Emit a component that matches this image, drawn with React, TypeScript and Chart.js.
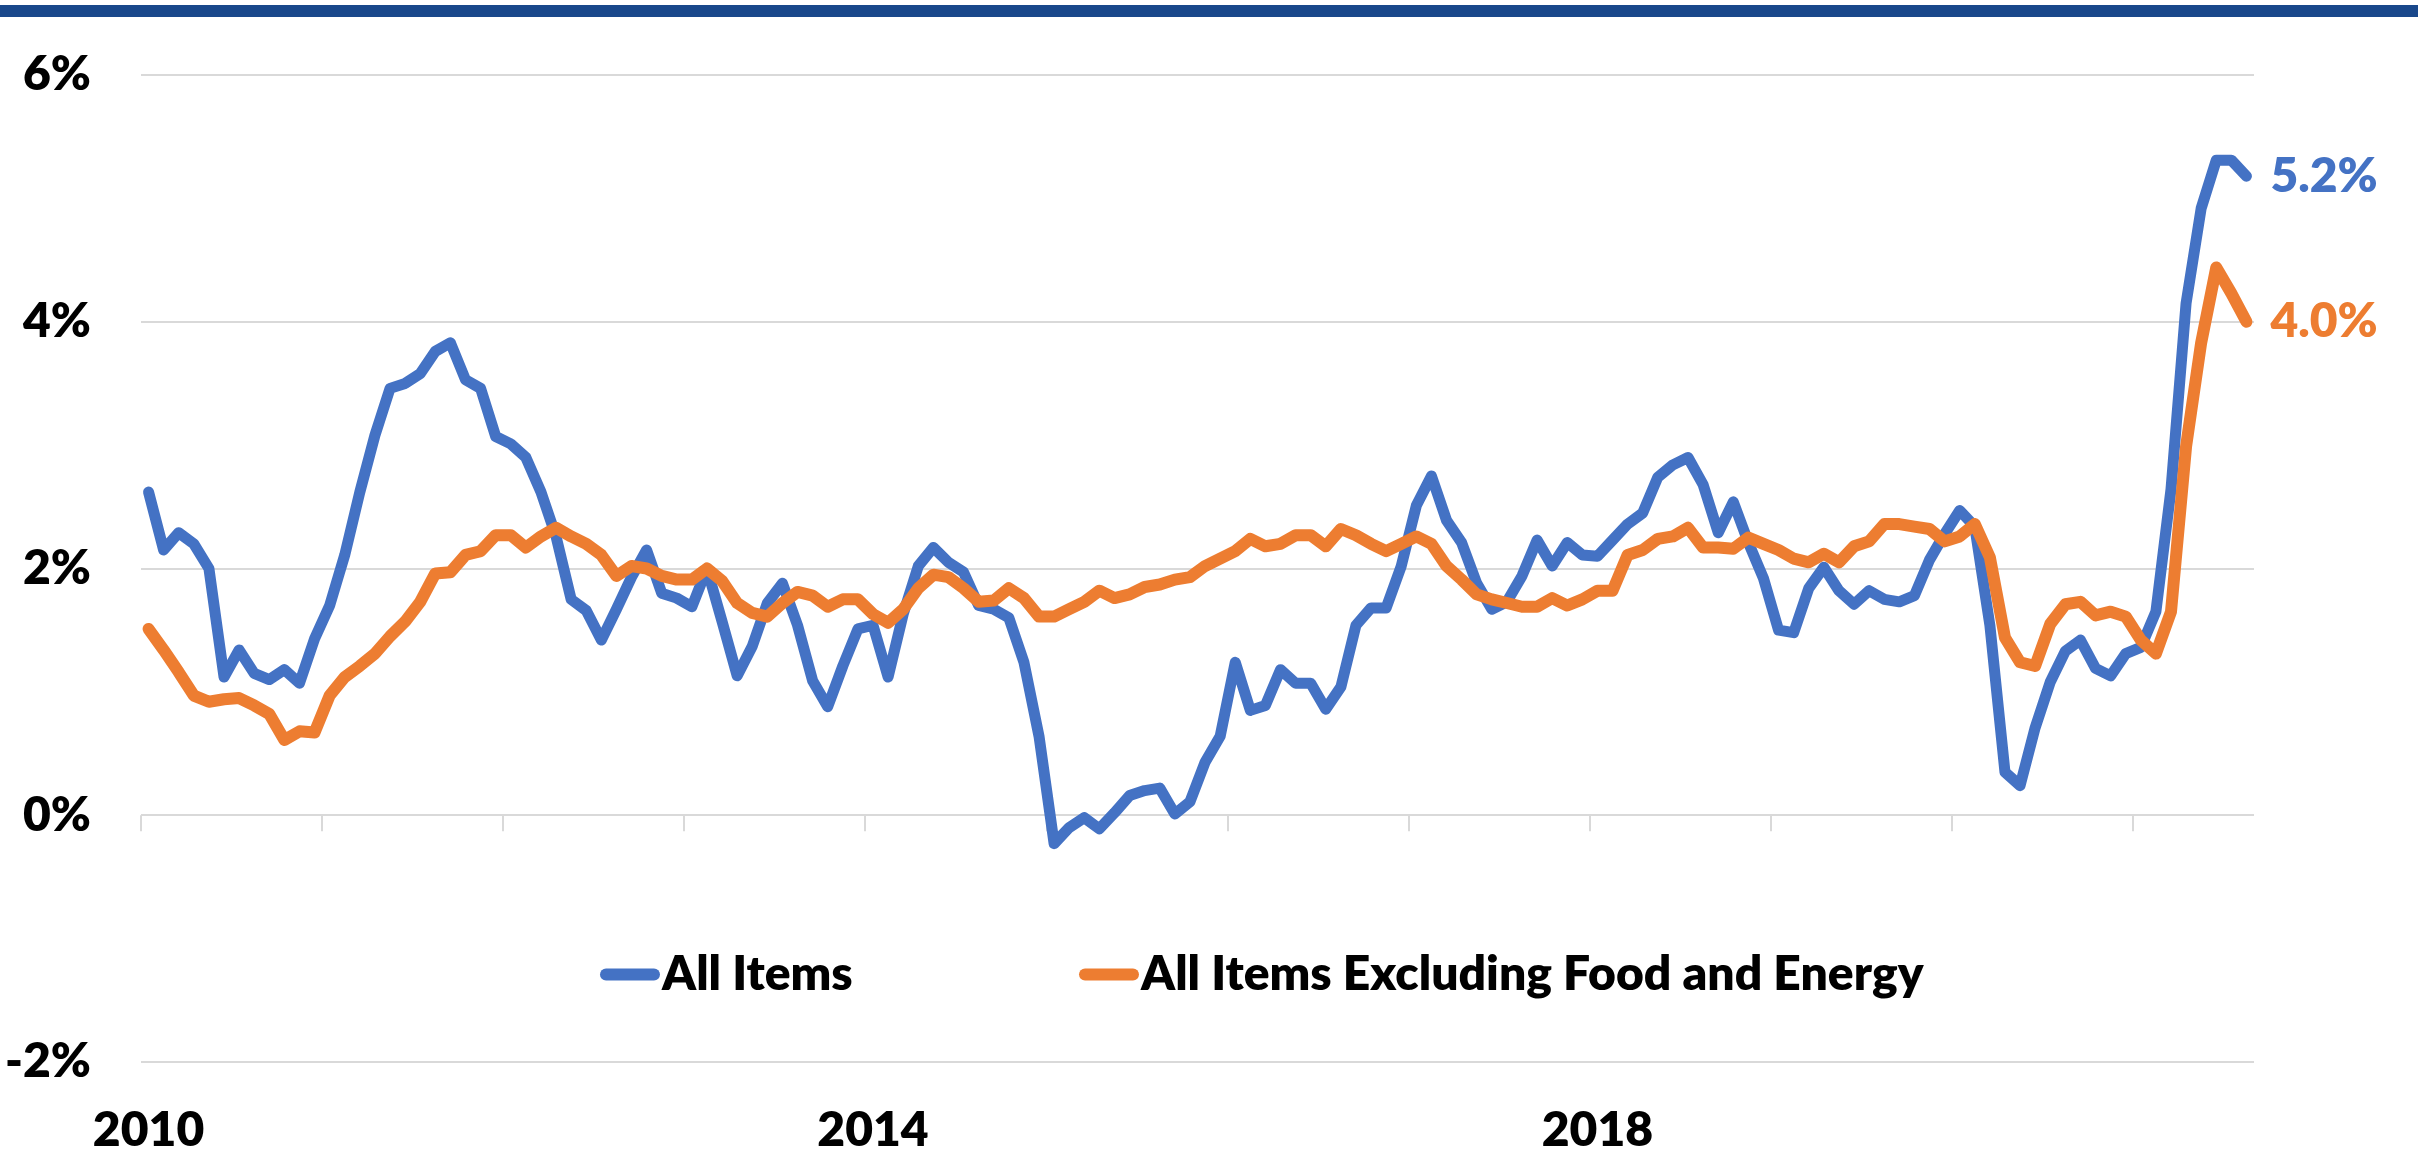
import React, { useEffect, useRef } from "react";
import { Chart, registerables } from "chart.js";

Chart.register(...registerables);

// ---- data ----
const startYear = 2010;
const monthCount = 140; // Jan 2010 .. Aug 2021
const months: string[] = Array.from({ length: monthCount }, (_, i) =>
  `${startYear + Math.floor(i / 12)}-${String((i % 12) + 1).padStart(2, "0")}`
);
const yearTickLabels = ["2010", "2014", "2018"];
const yTicks = [-2, 0, 2, 4, 6];

const seriesNames = ["All Items", "All Items Excluding Food and Energy"];
const seriesColors = ["#4472C4", "#ED7D31"];

const allItems = [
  2.62, 2.15, 2.29, 2.20, 2.00, 1.12, 1.34, 1.15, 1.10, 1.18, 1.07, 1.43,
  1.70, 2.11, 2.62, 3.08, 3.46, 3.50, 3.58, 3.76, 3.83, 3.53, 3.46, 3.07,
  3.01, 2.90, 2.62, 2.26, 1.75, 1.66, 1.42, 1.67, 1.93, 2.15, 1.80, 1.76,
  1.69, 2.00, 1.57, 1.13, 1.37, 1.72, 1.88, 1.54, 1.09, 0.88, 1.21, 1.51,
  1.54, 1.12, 1.63, 2.02, 2.17, 2.05, 1.97, 1.70, 1.67, 1.60, 1.24, 0.64,
  -0.23, -0.10, -0.02, -0.11, 0.02, 0.16, 0.20, 0.22, 0.01, 0.11, 0.43, 0.64,
  1.24, 0.85, 0.89, 1.18, 1.07, 1.07, 0.86, 1.04, 1.54, 1.68, 1.68, 2.02,
  2.51, 2.75, 2.39, 2.21, 1.88, 1.67, 1.73, 1.94, 2.23, 2.02, 2.21, 2.11,
  2.10, 2.23, 2.36, 2.45, 2.74, 2.84, 2.90, 2.68, 2.29, 2.54, 2.21, 1.92,
  1.50, 1.48, 1.84, 2.01, 1.82, 1.71, 1.82, 1.75, 1.73, 1.78, 2.07, 2.28,
  2.47, 2.34, 1.54, 0.35, 0.24, 0.71, 1.08, 1.33, 1.42, 1.19, 1.13, 1.31,
  1.36, 1.65, 2.64, 4.15, 4.92, 5.31, 5.31, 5.18,
];

const coreItems = [
  1.51, 1.34, 1.16, 0.97, 0.92, 0.94, 0.95, 0.89, 0.82, 0.61, 0.68, 0.67,
  0.97, 1.12, 1.21, 1.31, 1.45, 1.57, 1.73, 1.96, 1.97, 2.11, 2.14, 2.27,
  2.27, 2.17, 2.26, 2.33, 2.26, 2.20, 2.11, 1.94, 2.02, 2.00, 1.94, 1.91,
  1.91, 2.00, 1.90, 1.72, 1.64, 1.61, 1.72, 1.81, 1.78, 1.69, 1.75, 1.75,
  1.63, 1.56, 1.67, 1.84, 1.95, 1.93, 1.84, 1.73, 1.74, 1.84, 1.76, 1.61,
  1.61, 1.67, 1.73, 1.82, 1.76, 1.79, 1.85, 1.87, 1.91, 1.93, 2.02, 2.08,
  2.14, 2.24, 2.18, 2.20, 2.27, 2.27, 2.18, 2.32, 2.27, 2.20, 2.14, 2.20,
  2.26, 2.20, 2.02, 1.91, 1.79, 1.75, 1.72, 1.69, 1.69, 1.76, 1.70, 1.75,
  1.82, 1.82, 2.11, 2.15, 2.24, 2.26, 2.33, 2.17, 2.17, 2.16, 2.25, 2.20,
  2.15, 2.08, 2.05, 2.12, 2.05, 2.18, 2.22, 2.36, 2.36, 2.34, 2.32, 2.22,
  2.26, 2.36, 2.09, 1.44, 1.24, 1.21, 1.55, 1.71, 1.73, 1.62, 1.65, 1.61,
  1.42, 1.31, 1.65, 2.99, 3.83, 4.44, 4.23, 4.00,
];

// ---- styling ----
const FONT_FAMILY = "Lato, 'Open Sans', sans-serif";
const FONT_SIZE = 48;
const FONT_WEIGHT = 800;
const GRID_COLOR = "#d9d9d9";

const decorPlugin = {
  id: "decor",
  beforeDatasetsDraw(chart: any) {
    const { ctx, scales } = chart;
    const x = scales.x;
    const y = scales.y;
    const y0 = y.getPixelForValue(0);
    ctx.save();
    ctx.strokeStyle = GRID_COLOR;
    ctx.lineWidth = 2;
    for (let i = 0; i < months.length; i += 12) {
      const px = Math.round(x.getPixelForValue(i - 0.5));
      ctx.beginPath();
      ctx.moveTo(px, y0);
      ctx.lineTo(px, y0 + 16);
      ctx.stroke();
    }
    ctx.restore();
  },
  afterDatasetsDraw(chart: any) {
    const { ctx, scales } = chart;
    const x = scales.x;
    const y = scales.y;
    ctx.save();
    ctx.font = `${FONT_WEIGHT} ${FONT_SIZE}px ${FONT_FAMILY}`;
    // end value labels
    chart.data.datasets.forEach((ds: any, di: number) => {
      const meta = chart.getDatasetMeta(di);
      const pt = meta.data[meta.data.length - 1];
      const v = ds.data[ds.data.length - 1];
      ctx.fillStyle = ds.borderColor;
      ctx.textAlign = "left";
      ctx.textBaseline = "middle";
      ctx.fillText(`${v.toFixed(1)}%`, pt.x + 24, pt.y);
    });
    // legend inside plot area
    const ly = y.getPixelForValue(-1.29);
    const starts = [x.left + 459, x.left + 938];
    chart.data.datasets.forEach((ds: any, di: number) => {
      const sx = starts[di];
      ctx.strokeStyle = ds.borderColor;
      ctx.lineWidth = 12;
      ctx.lineCap = "round";
      ctx.beginPath();
      ctx.moveTo(sx + 6, ly);
      ctx.lineTo(sx + 54, ly);
      ctx.stroke();
      ctx.fillStyle = "#000";
      ctx.textAlign = "left";
      ctx.textBaseline = "middle";
      ctx.fillText(ds.label, sx + 62, ly);
    });
    ctx.restore();
  },
};

export default function App() {
  const canvasRef = useRef<HTMLCanvasElement>(null);

  useEffect(() => {
    const canvas = canvasRef.current;
    if (!canvas) return;
    const font = { family: FONT_FAMILY, size: FONT_SIZE, weight: FONT_WEIGHT as any };
    const chart = new Chart(canvas, {
      type: "line",
      data: {
        labels: months,
        datasets: [
          {
            label: seriesNames[0],
            data: allItems,
            borderColor: seriesColors[0],
            backgroundColor: seriesColors[0],
            borderWidth: 11,
            pointRadius: 0,
            pointHoverRadius: 0,
            borderJoinStyle: "round",
            borderCapStyle: "round",
            tension: 0,
            order: 1,
          },
          {
            label: seriesNames[1],
            data: coreItems,
            borderColor: seriesColors[1],
            backgroundColor: seriesColors[1],
            borderWidth: 12,
            pointRadius: 0,
            pointHoverRadius: 0,
            borderJoinStyle: "round",
            borderCapStyle: "round",
            tension: 0,
            order: 0,
          },
        ],
      },
      options: {
        responsive: false,
        animation: false,
        devicePixelRatio: 1,
        layout: { padding: { top: 75, right: 164, left: 0, bottom: 0 } },
        plugins: {
          legend: { display: false },
          tooltip: { enabled: false },
        },
        scales: {
          x: {
            type: "category",
            offset: true,
            grid: { display: false, drawTicks: false, offset: true },
            border: { display: false },
            ticks: {
              autoSkip: false,
              maxRotation: 0,
              minRotation: 0,
              padding: 40,
              color: "#000",
              font,
              callback: (_v: any, i: number) => {
                const lab = months[i];
                const yr = lab.slice(0, 4);
                return lab.endsWith("-01") && yearTickLabels.includes(yr) ? yr : "";
              },
            },
            afterFit: (s: any) => {
              s.height = 92;
              s.paddingLeft = 0;
              s.paddingRight = 0;
            },
          },
          y: {
            min: -2,
            max: 6,
            afterBuildTicks: (s: any) => {
              s.ticks = yTicks.map((v) => ({ value: v }));
            },
            grid: { color: GRID_COLOR, lineWidth: 2, drawTicks: false },
            border: { display: false },
            ticks: {
              padding: 50,
              color: "#000",
              font,
              callback: (v: any) => `${v}%`,
            },
            afterFit: (s: any) => {
              s.width = 141;
              s.paddingTop = 0;
              s.paddingBottom = 0;
            },
          },
        },
      } as any,
      plugins: [decorPlugin],
    });
    return () => chart.destroy();
  }, []);

  return (
    <div
      style={{
        position: "absolute",
        left: 0,
        top: 0,
        width: 2418,
        height: 1154,
        background: "#fff",
        overflow: "hidden",
      }}
    >
      <div
        style={{
          position: "absolute",
          left: 0,
          top: 5,
          width: 2418,
          height: 12,
          background: "#19488B",
        }}
      />
      <canvas
        ref={canvasRef}
        width={2418}
        height={1154}
        style={{ position: "absolute", left: 0, top: 0, width: 2418, height: 1154 }}
      />
    </div>
  );
}
